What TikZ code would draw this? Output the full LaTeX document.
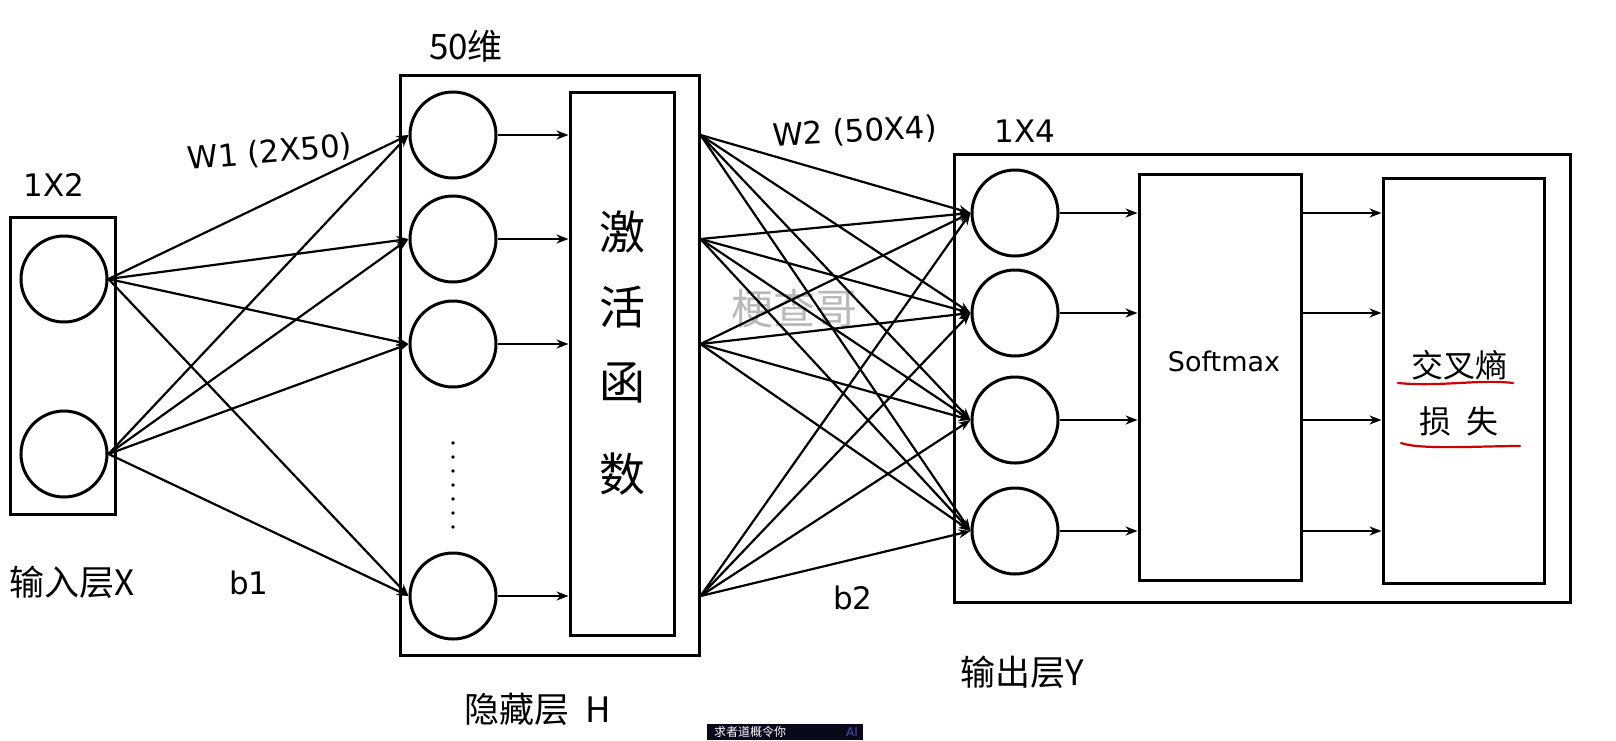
\documentclass[tikz,border=0pt]{standalone}
\usepackage{fontspec}
\setmainfont{Noto Sans CJK SC}
\newfontfamily\latinf{DejaVu Sans}
\usetikzlibrary{arrows.meta,calc}
\definecolor{capbg}{RGB}{8,10,28}
\definecolor{wm}{RGB}{185,185,185}
\tikzset{
  frame/.style={draw,line width=3pt},
  neuron/.style={draw,circle,line width=3pt,minimum size=86pt,inner sep=0pt},
  conn/.style={line width=2.2pt,-{Stealth[length=12pt,width=9pt]}},
  lbl/.style={font=\latinf\fontsize{31}{33}\selectfont},
  cjk/.style={font=\fontsize{35}{37}\selectfont},
  uline/.style={draw=red!80!black,line width=2.2pt,line cap=round}
}
\begin{document}
\begin{tikzpicture}[x=1pt,y=-1pt]
\useasboundingbox (0,0) rectangle (1616,740);
\fill[white] (0,0) rectangle (1616,740);
% input layer
\node[frame,minimum width=105pt,minimum height=297pt,inner sep=0pt] (ibox) at (63,366) {};
\node[neuron] (i1) at (64,279) {};
\node[neuron] (i2) at (64,454) {};
\node[lbl] (t12) at (54,185) {1X2};
\node[cjk] (tin) at (72,582) {输入层X};
% hidden layer
\node[frame,minimum width=299pt,minimum height=580pt,inner sep=0pt] (hbox) at (549.5,365) {};
\node[neuron] (h1) at (453,135) {};
\node[neuron] (h2) at (453,239) {};
\node[neuron] (h3) at (453,344) {};
\node[neuron] (h4) at (453,596) {};
\node[frame,minimum width=104pt,minimum height=543pt,inner sep=0pt] (act) at (622,363.5) {};
\node[font=\fontsize{46}{48}\selectfont] (a1) at (622,232) {激};
\node[font=\fontsize{46}{48}\selectfont] (a2) at (622,307) {活};
\node[font=\fontsize{46}{48}\selectfont] (a3) at (622,383) {函};
\node[font=\fontsize{46}{48}\selectfont] (a4) at (622,474) {数};
\foreach \yy in {443,457,471,485,499,513,527}
  \fill (453,\yy) circle (1.8pt);
\node[cjk] (t50) at (466,46) {50维};
\node[lbl,rotate=5] (tw1) at (270,153) {W1 (2X50)};
\node[lbl] (tb1) at (249,583) {b1};
\node[cjk] (thid) at (538,709) {隐藏层\ \ H};
% output layer
\node[frame,minimum width=616pt,minimum height=448pt,inner sep=0pt] (obox) at (1262,378) {};
\node[neuron] (o1) at (1015,213) {};
\node[neuron] (o2) at (1015,313) {};
\node[neuron] (o3) at (1015,420) {};
\node[neuron] (o4) at (1015,531) {};
\node[frame,minimum width=162pt,minimum height=406pt,inner sep=0pt] (sm) at (1220,377) {};
\node[frame,minimum width=161pt,minimum height=405pt,inner sep=0pt] (ls) at (1463.5,380.5) {};
\node[lbl,font=\latinf\fontsize{27}{29}\selectfont] (tsm) at (1224,361) {Softmax};
\node[cjk,font=\fontsize{32}{34}\selectfont] (tl1) at (1459,365) {交叉熵};
\node[cjk,font=\fontsize{32}{34}\selectfont] (tl2) at (1459,421) {损\ \ 失};
\draw[uline] (1398,383) .. controls (1440,387) and (1480,379) .. (1513,383);
\draw[uline] (1401,443) .. controls (1420,450) and (1480,446) .. (1520,446);
\node[lbl] (t14) at (1025,131) {1X4};
\node[lbl,rotate=3] (tw2) at (855,132) {W2 (50X4)};
\node[lbl] (tb2) at (853,598) {b2};
\node[cjk] (tout) at (1022,672) {输出层Y};
% watermark
\node[font=\fontsize{42}{44}\selectfont,text=wm] (wmk) at (794,309) {梗查哥};
% connections input -> hidden
\foreach \a in {i1,i2}
  \foreach \b in {h1,h2,h3,h4}
    \draw[conn] (\a.east) -- (\b.west);
% hidden -> activation
\foreach \b in {h1,h2,h3,h4}
  \draw[conn] (\b.east) -- (act.west |- \b);
% hidden -> output
\foreach \b in {h1,h2,h3,h4}
  \foreach \o in {o1,o2,o3,o4}
    \draw[conn] (hbox.east |- \b) -- (\o.west);
% output -> softmax -> loss
\foreach \o in {o1,o2,o3,o4}{
  \draw[conn] (\o.east) -- (sm.west |- \o);
  \draw[conn] (sm.east |- \o) -- (ls.west |- \o);
}
% caption strip
\fill[capbg] (707,724) rectangle (863,740);
\node[text=white,font=\fontsize{12}{13}\selectfont,anchor=west,inner sep=0pt] (cap) at (714,732) {求者道概令你};
\node[text=gray!60!blue,font=\latinf\fontsize{12}{13}\selectfont,anchor=west,inner sep=0pt] (cap2) at (846,732) {AI};
\end{tikzpicture}
\end{document}
